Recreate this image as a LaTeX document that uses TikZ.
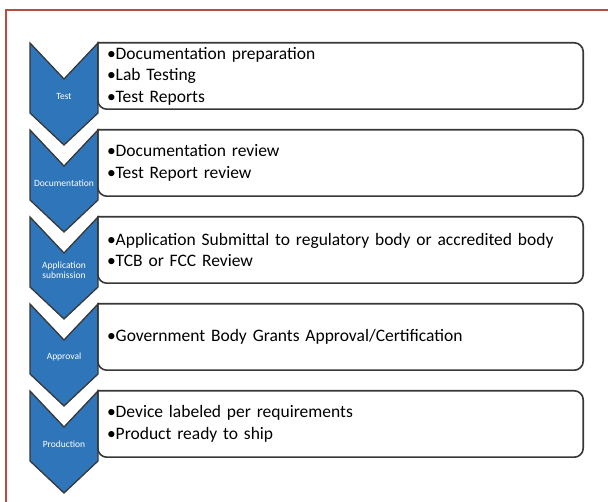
\documentclass[tikz,border=0pt]{standalone}
\usepackage{fontspec}
\setmainfont{Carlito}
\usetikzlibrary{positioning}
\definecolor{chevblue}{RGB}{46,117,186}
\definecolor{framered}{RGB}{185,78,62}
\definecolor{edgegray}{RGB}{55,55,55}
\tikzstyle{box}=[minimum width=485pt,minimum height=66pt,text width=467pt,inner xsep=9pt,inner ysep=0pt,align=left,font=\fontsize{17.5}{21.5}\selectfont]
\tikzstyle{boxline}=[draw=edgegray,line width=1.6pt]
\tikzstyle{chev}=[fill=chevblue,draw=edgegray,line width=1.3pt,line join=miter]
\tikzstyle{steplabel}=[text=white,inner sep=0pt,align=center,font=\fontsize{9.5}{10.5}\selectfont]

\begin{document}
\begin{tikzpicture}[x=1pt,y=-1pt,node distance=87pt]
\useasboundingbox (0,0) rectangle (608,502);
\draw[framered,line width=1.3pt] (6,502) -- (6,10) -- (608,10);

% chevrons
\foreach \t in {43,130,217,304,391}
  \draw[chev] (30,\t) -- (64,\t+36) -- (98,\t) -- (98,\t+70) -- (64,\t+102) -- (30,\t+70) -- cycle;

\node (box1) [box] at (340.5,76) {•Documentation preparation\\•Lab Testing\\•Test Reports};
\node (box2) [box,below of=box1] {•Documentation review\\•Test Report review};
\node (box3) [box,below of=box2] {•Application Submittal to regulatory body or accredited body\\•TCB or FCC Review};
\node (box4) [box,below of=box3] {•Government Body Grants Approval/Certification};
\node (box5) [box,below of=box4] {•Device labeled per requirements\\•Product ready to ship};

\foreach \b in {box1,box2,box3,box4,box5}
  \draw[boxline] (\b.north west) [rounded corners=9pt] -- (\b.north east) -- (\b.south east) -- (\b.south west) [sharp corners] -- cycle;

\node (test) [steplabel] at (64,96) {Test};
\node (doc) [steplabel,below of=test] {Documentation};
\node (appl) [steplabel,below of=doc] {Application\\submission};
\node (appr) [steplabel,below of=appl] {Approval};
\node (prod) [steplabel,below of=appr] {Production};
\end{tikzpicture}
\end{document}
